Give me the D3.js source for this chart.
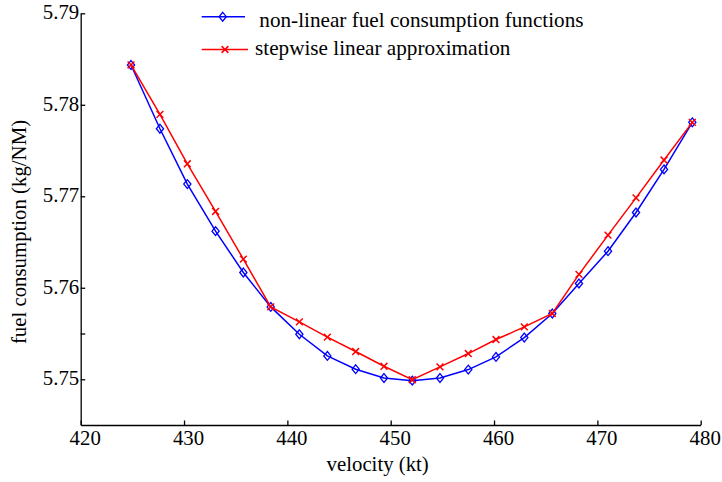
<!DOCTYPE html>
<html>
<head>
<meta charset="utf-8">
<script src="https://cdn.jsdelivr.net/npm/d3@7"></script>
<style>
  html, body { margin: 0; padding: 0; background: #fff; }
  svg { display: block; }
  svg text { font-family: "Liberation Serif", "Times New Roman", serif !important; fill: #000; }
</style>
</head>
<body>
<svg id="chart" width="722" height="482"></svg>
<script>
// ---- data ----
const velocity = [424.87, 427.67, 430.32, 433.05, 435.74, 438.39, 441.16, 443.87, 446.61, 449.35, 452.09,
                  454.77, 457.51, 460.19, 462.93, 465.64, 468.22, 471.03, 473.74, 476.45, 479.19];
const nonLinear = [5.78435, 5.77738, 5.77133, 5.76619, 5.76167, 5.75791, 5.75492, 5.75255, 5.75110, 5.75014, 5.74985,
                   5.75014, 5.75106, 5.75244, 5.75456, 5.75719, 5.76047, 5.76400, 5.76823, 5.77294, 5.77808];
const stepwise = [5.78435, 5.77895, 5.77355, 5.76834, 5.76313, 5.75791, 5.75627, 5.75460, 5.75303, 5.75142, 5.74995,
                  5.75135, 5.75281, 5.75434, 5.75572, 5.75719, 5.76146, 5.76575, 5.76983, 5.77396, 5.77808];
const xTicks = [420, 430, 440, 450, 460, 470, 480];
const yTicks = [5.75, 5.755, 5.76, 5.77, 5.78, 5.79];
const yTickLabels = ["5.75", "", "5.76", "5.77", "5.78", "5.79"];
const seriesNames = [" non-linear fuel consumption functions", "stepwise linear approximation"];
const xTitle = "velocity (kt)";
const yTitle = "fuel consumption (kg/NM)";

// ---- layout ----
const svg = d3.select("#chart");
const FS = 20.8;
const LFS = 21.2;
const SERIF = '"Liberation Serif", "Times New Roman", serif';
const x = d3.scaleLinear().domain([420, 480]).range([80.7, 700.7]);
const y = d3.scaleLinear().domain([5.745, 5.79]).range([425, 13.3]);

// axes
const xAxis = d3.axisBottom(x).tickValues(xTicks).tickFormat(d3.format("d"))
  .tickSizeInner(-4.5).tickSizeOuter(0).tickPadding(5.5);
const gx = svg.append("g").attr("transform", `translate(0,${y.range()[0]})`).call(xAxis)
  .attr("font-family", SERIF);
gx.selectAll("text").style("font-family", SERIF).style("font-size", FS + "px").attr("dx", 4);

const yAxis = d3.axisLeft(y).tickValues(yTicks).tickFormat((d, i) => yTickLabels[i])
  .tickSizeInner(-4.5).tickSizeOuter(0).tickPadding(1.5);
const gy = svg.append("g").attr("transform", `translate(${x.range()[0]},0)`).call(yAxis)
  .attr("font-family", SERIF);
gy.selectAll("text").style("font-family", SERIF).style("font-size", FS + "px").attr("dy", "0.27em");

svg.selectAll(".domain, .tick line").attr("stroke", "#000").attr("stroke-width", 1.3);

// axis titles
svg.append("text").attr("x", (x.range()[0] + x.range()[1]) / 2 - 13).attr("y", 471)
  .attr("text-anchor", "middle").style("font-size", FS + "px").text(xTitle);
svg.append("text").attr("transform", `translate(26,232) rotate(-90)`)
  .attr("text-anchor", "middle").style("font-size", FS + "px").text(yTitle);

// symbols
const diamondType = {
  draw(ctx, size) {
    const w = 3.6, h = 4.4;
    ctx.moveTo(0, -h); ctx.lineTo(w, 0); ctx.lineTo(0, h); ctx.lineTo(-w, 0); ctx.closePath();
  }
};
const crossType = {
  draw(ctx, size) {
    const r = 3.4;
    ctx.moveTo(-r, -r); ctx.lineTo(r, r); ctx.moveTo(-r, r); ctx.lineTo(r, -r);
  }
};
const diamond = d3.symbol().type(diamondType)();
const cross = d3.symbol().type(crossType)();

const line = d3.line().x(d => x(d[0])).y(d => y(d[1]));
const blueData = velocity.map((v, i) => [v, nonLinear[i]]);
const redData = velocity.map((v, i) => [v, stepwise[i]]);

// blue series
svg.append("path").datum(blueData).attr("d", line).attr("fill", "none")
  .attr("stroke", "#0000ff").attr("stroke-width", 1.5);
svg.append("g").selectAll("path").data(blueData).join("path")
  .attr("d", diamond).attr("transform", d => `translate(${x(d[0])},${y(d[1])})`)
  .attr("fill", "none").attr("stroke", "#0000ff").attr("stroke-width", 1.3);

// red series
svg.append("path").datum(redData).attr("d", line).attr("fill", "none")
  .attr("stroke", "#ff0000").attr("stroke-width", 1.5);
svg.append("g").selectAll("path").data(redData).join("path")
  .attr("d", cross).attr("transform", d => `translate(${x(d[0])},${y(d[1])})`)
  .attr("fill", "none").attr("stroke", "#ff0000").attr("stroke-width", 1.5);

// legend
const leg = svg.append("g");
leg.append("line").attr("x1", 201.7).attr("x2", 245).attr("y1", 16.7).attr("y2", 16.7)
  .attr("stroke", "#0000ff").attr("stroke-width", 1.5);
leg.append("path").attr("d", diamond).attr("transform", "translate(222.7,16.7)")
  .attr("fill", "none").attr("stroke", "#0000ff").attr("stroke-width", 1.3);
leg.append("text").attr("x", 254).attr("y", 26.5).style("font-size", LFS + "px")
  .attr("xml:space", "preserve").style("white-space", "pre").text(seriesNames[0]);

leg.append("line").attr("x1", 201.7).attr("x2", 248).attr("y1", 49.5).attr("y2", 49.5)
  .attr("stroke", "#ff0000").attr("stroke-width", 1.5);
leg.append("path").attr("d", cross).attr("transform", "translate(225,49.5)")
  .attr("fill", "none").attr("stroke", "#ff0000").attr("stroke-width", 1.5);
leg.append("text").attr("x", 255).attr("y", 54.5).style("font-size", LFS + "px").text(seriesNames[1]);
</script>
</body>
</html>
